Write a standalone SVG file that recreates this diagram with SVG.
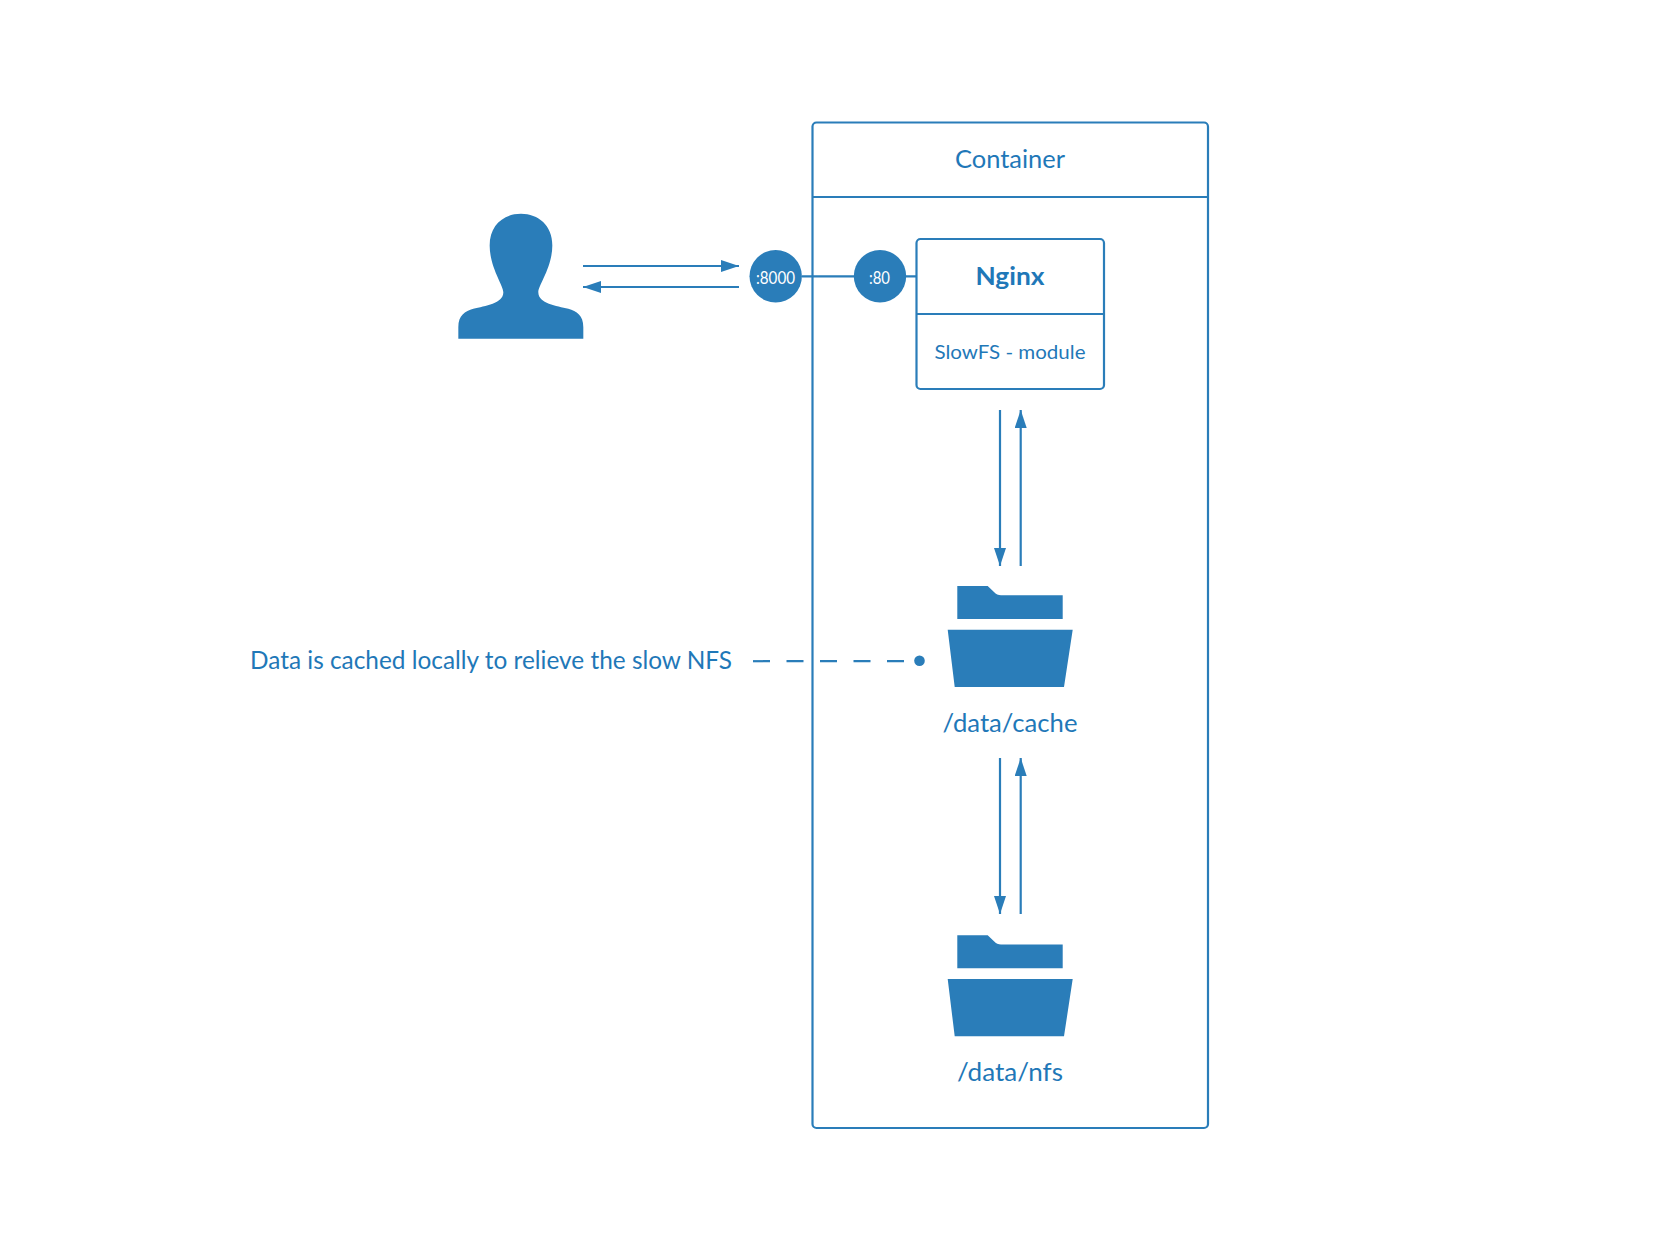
<svg xmlns="http://www.w3.org/2000/svg" width="1667" height="1250" viewBox="0 0 1667 1250">
<style>
.b{fill:#fff;stroke:#2a7db9;stroke-width:2.2}
.l{fill:none;stroke:#2a7db9;stroke-width:2.2}
.f{fill:#2a7db9}
text{font-family:"Lato","Liberation Sans",sans-serif;fill:#1f78b8;text-anchor:middle}
.w{fill:#fff;font-size:17px}
</style>
<defs>
<marker id="a" markerUnits="userSpaceOnUse" markerWidth="18" markerHeight="12" refX="18" refY="6" orient="auto"><path d="M0 0L18 6L0 12Z" fill="#2a7db9"/></marker>
<path id="folder" d="M957.3 586H987.7L994 592Q997 595.300 1001 595.300H1062.7V619H957.3ZM947.7 629.8H1072.7L1064 687H954.7Z" fill="#2a7db9"/>
</defs>
<g id="container"><rect class="b" x="812.500" y="122.500" width="395.500" height="1005.500" rx="4"/><path class="l" d="M812.500 197H1208"/><text x="1010" y="167.500" font-size="24.500" textLength="110" lengthAdjust="spacingAndGlyphs">Container</text></g>
<g id="connectors">
<path class="l" d="M583 266H739" marker-end="url(#a)"/>
<path class="l" d="M739 287H583" marker-end="url(#a)"/>
<path class="l" d="M802 276.300H916"/>
<path class="l" d="M1000 410V566" marker-end="url(#a)"/>
<path class="l" d="M1020.700 566V410" marker-end="url(#a)"/>
<path class="l" d="M1000 758V914" marker-end="url(#a)"/>
<path class="l" d="M1020.700 914V758" marker-end="url(#a)"/>
<path class="l" d="M753 661.200H915" stroke-dasharray="17 16.500"/>
<circle class="f" cx="919.500" cy="660.700" r="5.300"/>
</g>
<g id="user"><path class="f" transform="translate(440 190.500) scale(.3333)" d="M55 445H430V410C430 375 410 362 385 355C350 345 295 340 295 305C295 285 337 230 337 165C337 105 295 70 243 70C190 70 149 105 149 165C149 230 190 285 190 305C190 340 135 345 100 355C75 362 55 375 55 410Z"/></g>
<g id="port-8000"><circle class="f" cx="775.700" cy="276.300" r="26.200"/><text class="w" x="775.500" y="284" textLength="39" lengthAdjust="spacingAndGlyphs">:8000</text></g>
<g id="port-80"><circle class="f" cx="880" cy="276.300" r="26.200"/><text class="w" x="879.500" y="284" textLength="21" lengthAdjust="spacingAndGlyphs">:80</text></g>
<g id="nginx"><rect class="b" x="916.500" y="239" width="187.500" height="150" rx="4"/><path class="l" d="M916.500 314H1104"/><text x="1010" y="284.500" font-size="24.500" font-weight="700" textLength="69" lengthAdjust="spacingAndGlyphs">Nginx</text><text x="1010" y="359" font-size="20" textLength="151" lengthAdjust="spacingAndGlyphs">SlowFS - module</text></g>
<g id="cache"><use href="#folder"/><text x="1010" y="731.500" font-size="24.500" textLength="135" lengthAdjust="spacingAndGlyphs">/data/cache</text></g>
<g id="nfs"><use href="#folder" y="349.300"/><text x="1010" y="1080.500" font-size="24.500" textLength="106" lengthAdjust="spacingAndGlyphs">/data/nfs</text></g>
<g id="note"><text x="491" y="669" font-size="24.500" textLength="482" lengthAdjust="spacingAndGlyphs">Data is cached locally to relieve the slow NFS</text></g>
</svg>
